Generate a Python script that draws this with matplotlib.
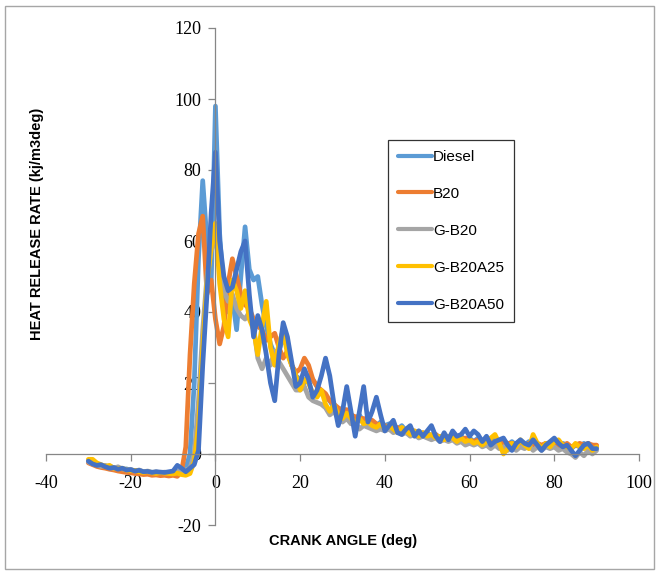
import numpy as np
import matplotlib
matplotlib.use("Agg")
from matplotlib import pyplot as plt
from matplotlib.patches import Rectangle

plt.rcParams["axes.unicode_minus"] = False

# crank angle, deg
crank = list(range(-30, 91))

diesel = [-2.0, -2.6, -3.0, -3.3, -3.5, -3.4, -3.9, -4.1, -4.3, -4.2,
          -4.6, -4.8, -4.7, -5.0, -5.2, -5.1, -5.3, -5.4, -5.2, -5.3,
          -5.4, -5.0, -4.6, -4.0, 0.0, 20.0, 55.0, 77.0, 60.0, 48.0,
          98, 62, 45, 40, 44, 35, 50, 64, 52, 49,
          50, 42, 36, 31, 28, 29, 33, 30, 25, 22,
          21, 20, 22, 21, 19, 17, 16, 15, 13, 12,
          13, 12, 11, 10, 11, 9, 10, 9, 8, 9,
          8, 8.5, 7.5, 7, 8, 6.5, 7, 6, 6.5, 5.5,
          6, 5, 5.5, 4.5, 5, 4.5, 5.5, 4, 5, 4,
          4.5, 3.5, 4.5, 3.5, 4, 3, 4, 3, 3.5, 2.5,
          3.5, 2.5, 3, 2.5, 3.5, 2.5, 3, 2, 3, 2.5,
          3, 2, 3, 2.5, 1.5, 2.5, 2, 3, 1.5, 2.5, 2]

b20 = [-2.5, -3.0, -3.5, -3.8, -4.0, -4.3, -4.5, -4.8, -5.0, -5.2,
       -5.3, -5.5, -5.6, -5.8, -5.7, -6.0, -5.9, -6.1, -6.0, -6.2,
       -6.0, -6.3, -5.0, 2.0, 28.0, 48.0, 62.0, 67.0, 45.0, 49.0,
       38, 31, 36, 48, 55, 50, 45, 42, 41, 38,
       36, 35, 32, 33, 34, 30, 27, 29, 25, 23,
       24, 27, 25, 21, 19, 18, 17, 15, 14, 13,
       12, 12.5, 11, 10.5, 10, 10, 9, 9.5, 8.5, 8,
       8, 7.5, 7, 7.5, 6.5, 7, 6, 6.5, 5.5, 6,
       5.5, 5, 5.5, 4.5, 5, 4, 5, 4.5, 4, 4.5,
       4, 3.5, 4, 3, 3.5, 3, 3.5, 2.5, 3.5, 3,
       3, 2.5, 3.5, 2.5, 3, 2, 3, 2.5, 3, 2,
       3, 2.5, 2, 3, 2, 2.5, 3, 2.5, 3, 2.5, 2.5]

g_b20 = [-2.2, -2.8, -3.0, -3.5, -3.2, -3.8, -4.0, -3.6, -4.2, -4.5,
         -4.3, -4.8, -4.5, -5.0, -4.8, -5.2, -5.0, -5.3, -5.1, -5.4,
         -5.2, -5.0, -4.8, -4.5, -4.0, 0.0, 15.0, 35.0, 50.0, 57.0,
         62, 52, 46, 43, 45, 41, 39, 38, 40, 36,
         27, 24, 27, 25, 29, 26, 24, 22, 20, 18,
         18, 19, 16, 15, 14.5, 14, 13, 11, 12, 10,
         9, 10, 8.5, 9, 7, 8, 7.5, 7, 6.5, 7,
         6.5, 7, 6, 6.5, 5.5, 6, 5, 5.5, 4.5, 5,
         4.5, 4, 4.5, 3.5, 4, 3.5, 4, 3, 3.5, 2.5,
         3, 2.5, 3, 2, 2.5, 1.5, 2.5, 1.5, 2, 1,
         2, 1, 2, 1.5, 2.5, 1, 2, 1, 2, 1.5,
         2, 1, 1.5, 0.5, 0, -1, 0.5, -0.5, 1, 0, 1]

g_b20a25 = [-1.5, -1.5, -2.5, -3.0, -3.5, -3.2, -4.0, -4.2, -4.0, -4.5,
            -4.7, -4.6, -5.0, -5.2, -5.0, -5.3, -5.5, -5.2, -5.4, -5.5,
            -5.6, -5.4, -5.8, -6.0, -5.5, -2.0, 8.0, 30.0, 48.0, 58.0,
            65, 48, 38, 33, 49, 46, 41, 46, 38, 35,
            28, 36, 43, 30, 25, 31, 35, 28, 25, 22,
            18, 21, 20, 17, 16, 18, 14, 12, 14, 11,
            10, 11.5, 10, 9, 10, 8.5, 9, 8, 7.5, 8.5,
            7, 8, 7, 6, 7.5, 6.5, 5.5, 6.5, 5, 6,
            5, 5.5, 4.5, 5, 4, 5, 4.5, 3.5, 4.5, 3.5,
            4, 3, 3.5, 2.5, 3.5, 4.5, 5.5, 3, 0, 1.5,
            3, 2, 4, 2.5, 1.5, 5.5, 3, 1.5, 3, 2,
            3.5, 4, 2.5, 2, 1.5, 3, 2, 1.5, 2.5, 1, 2]

g_b20a50 = [-2.0, -2.8, -3.2, -3.0, -3.6, -4.0, -3.8, -4.3, -4.0, -4.5,
            -4.4, -4.8, -4.6, -5.0, -4.9, -5.2, -5.0, -5.1, -5.2, -5.0,
            -4.8, -3.2, -4.0, -5.0, -4.0, -3.0, 1.0, 25.0, 45.0, 68.0,
            85, 60, 50, 46, 47, 52, 57, 60, 45, 33,
            39, 35, 28, 20, 15, 28, 37, 33, 26, 19,
            20, 24, 21, 16, 18, 22, 27, 22, 14, 8,
            12, 19, 12, 5, 12, 19, 9, 12, 16, 11,
            6.5, 8, 9.5, 6, 5.5, 7, 8, 5, 6.5, 5,
            6.5, 8, 5, 3.5, 6, 4, 6.5, 5, 5.5, 7,
            5, 6.5, 5.5, 3.5, 5, 2.5, 3.5, 4, 4.5, 2.5,
            1, 3, 4, 3, 2.5, 4, 2.5, 1, 2.5, 3.5,
            4.5, 3, 2, 2.5, 1, -0.5, 1, 2.5, 3, 1.5, 1.5]

labels = ["Diesel", "B20", "G-B20", "G-B20A25", "G-B20A50"]
colors = ["#5B9BD5", "#ED7D31", "#A5A5A5", "#FFC000", "#4472C4"]
series = [diesel, b20, g_b20, g_b20a25, g_b20a50]

W, H = 659, 574
fig = plt.figure(figsize=(W / 100, H / 100), dpi=100)
ax = fig.add_axes([46 / W, 1 - 525 / H, 593 / W, 497 / H])

for y, lab, c in zip(series, labels, colors):
    ax.plot(crank, y, color=c, lw=3.4, label=lab,
            solid_joinstyle="round", solid_capstyle="round")

ax.set_xlim(-40, 100)
ax.set_ylim(-20, 120)
ax.set_xticks(np.arange(-40, 101, 20))
ax.set_yticks(np.arange(-20, 121, 20))

axis_grey = "#868686"
ax.spines["left"].set_position(("data", 0))
ax.spines["bottom"].set_position(("data", 0))
ax.spines["right"].set_visible(False)
ax.spines["top"].set_visible(False)
for s in ("left", "bottom"):
    ax.spines[s].set_color(axis_grey)
    ax.spines[s].set_linewidth(0.9)

ax.tick_params(axis="both", direction="out", length=5, width=0.9, color=axis_grey,
               labelsize=13)
ax.tick_params(axis="x", pad=10)
ax.tick_params(axis="y", pad=5)
for t in ax.get_xticklabels() + ax.get_yticklabels():
    t.set_family("Liberation Serif")

lab_font = ["Liberation Sans Narrow", "Liberation Sans", "DejaVu Sans"]
fig.text(343 / W, 1 - 541 / H, "CRANK ANGLE (deg)", ha="center", va="center",
         fontsize=10.5, fontweight="bold", family=lab_font)
fig.text(37 / W, 1 - 224 / H, "HEAT RELEASE RATE (kj/m3deg)", ha="center",
         va="center", rotation=90, fontsize=10.5, fontweight="bold", family=lab_font)

leg = ax.legend(loc="upper left", bbox_to_anchor=(388 / W, 1 - 140 / H),
                bbox_transform=fig.transFigure, frameon=True, fancybox=False,
                prop={"family": lab_font, "size": 11}, handlelength=2.2,
                handletextpad=0.1, labelspacing=1.5, borderpad=0.65,
                borderaxespad=0)
leg.get_frame().set_edgecolor("black")
leg.get_frame().set_linewidth(0.9)
for h in leg.get_lines():
    h.set_linewidth(3)

# outer chart border
fig.patches.append(Rectangle((5 / W, 5 / H), 649 / W, 563 / H,
                             transform=fig.transFigure, fill=False,
                             edgecolor="#A6A6A6", lw=1))

fig.savefig("out.png", dpi=100)
